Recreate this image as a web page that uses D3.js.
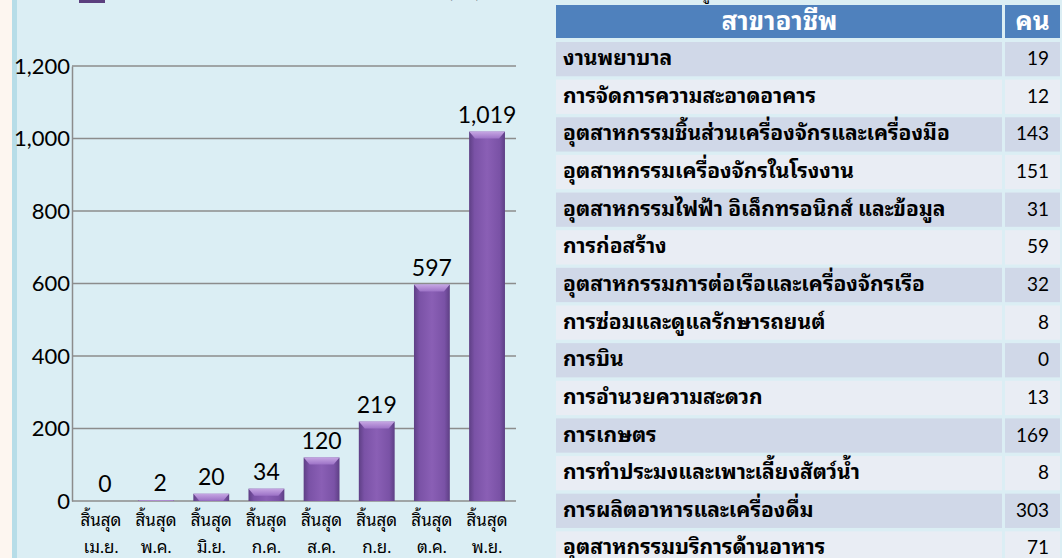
<!DOCTYPE html>
<html>
<head>
<meta charset="utf-8">
<script src="https://cdn.jsdelivr.net/npm/d3@7/dist/d3.min.js"></script>
<style>
  body { margin: 0; background: #dbeef4; }
  svg { display: block; }
  text { font-family: Lato, "Noto Sans Thai Looped", Tahoma, Loma, Garuda, "Noto Sans Thai", "Noto Sans", "DejaVu Sans", sans-serif; }
</style>
</head>
<body>
<svg id="chart" width="1062" height="558"></svg>
<script>
// chart data
var prefix = "สิ้นสุด";
var months = ["เม.ย.", "พ.ค.", "มิ.ย.", "ก.ค.", "ส.ค.", "ก.ย.", "ต.ค.", "พ.ย."];
var values = [0, 2, 20, 34, 120, 219, 597, 1019];
var yTicks = [0, 200, 400, 600, 800, 1000, 1200];

// table data
var headers = ["สาขาอาชีพ", "คน"];
var occupations = [
    "งานพยาบาล",
    "การจัดการความสะอาดอาคาร",
    "อุตสาหกรรมชิ้นส่วนเครื่องจักรและเครื่องมือ",
    "อุตสาหกรรมเครื่องจักรในโรงงาน",
    "อุตสาหกรรมไฟฟ้า อิเล็กทรอนิกส์ และข้อมูล",
    "การก่อสร้าง",
    "อุตสาหกรรมการต่อเรือและเครื่องจักรเรือ",
    "การซ่อมและดูแลรักษารถยนต์",
    "การบิน",
    "การอำนวยความสะดวก",
    "การเกษตร",
    "การทำประมงและเพาะเลี้ยงสัตว์น้ำ",
    "การผลิตอาหารและเครื่องดื่ม",
    "อุตสาหกรรมบริการด้านอาหาร"
];
var counts = [19, 12, 143, 151, 31, 59, 32, 8, 0, 13, 169, 8, 303, 71];

var svg = d3.select("#chart");

// page frame
svg.append("rect").attr("x", 0).attr("y", 0).attr("width", 12).attr("height", 558).attr("fill", "#fdf6f0");
svg.append("rect").attr("x", 12).attr("y", 0).attr("width", 5).attr("height", 558).attr("fill", "#b7dde8");

var defs = svg.append("defs");
var grad = defs.append("linearGradient").attr("id", "barGrad")
    .attr("x1", 0).attr("x2", 1).attr("y1", 0).attr("y2", 0);
grad.append("stop").attr("offset", "0%").attr("stop-color", "#5e3f85");
grad.append("stop").attr("offset", "15%").attr("stop-color", "#7a52a6");
grad.append("stop").attr("offset", "50%").attr("stop-color", "#8a5fb5");
grad.append("stop").attr("offset", "85%").attr("stop-color", "#7a52a6");
grad.append("stop").attr("offset", "100%").attr("stop-color", "#5e3f85");
var topGrad = defs.append("linearGradient").attr("id", "topGrad")
    .attr("x1", 0).attr("x2", 0).attr("y1", 0).attr("y2", 1);
topGrad.append("stop").attr("offset", "0%").attr("stop-color", "#c6a6e3");
topGrad.append("stop").attr("offset", "100%").attr("stop-color", "#9c72c6");

// ---- bar chart ----
var x = d3.scaleBand().domain(months).range([72, 516]).paddingInner(0.35).paddingOuter(0.2);
var y = d3.scaleLinear().domain([0, 1200]).range([501, 66]);

var g = svg.append("g");

g.selectAll(".grid")
    .data(yTicks.slice(1))
    .enter().append("line")
    .attr("class", "grid")
    .attr("x1", 72).attr("x2", 516)
    .attr("y1", function(d) { return y(d); })
    .attr("y2", function(d) { return y(d); })
    .attr("stroke", "#8c8c8c").attr("stroke-width", 1.5);

var yAxis = g.append("g")
    .attr("transform", "translate(72,0)")
    .call(d3.axisLeft(y).tickValues(yTicks).tickSize(0).tickPadding(2).tickFormat(d3.format(",")));
yAxis.select(".domain").attr("stroke", "#8c8c8c").attr("stroke-width", 1.5);
yAxis.selectAll("text").attr("font-size", 22).attr("fill", "#000")
    .style("font-family", "Lato, 'Noto Sans', sans-serif");

g.append("line").attr("x1", 72).attr("x2", 516).attr("y1", y(0)).attr("y2", y(0))
    .attr("stroke", "#8c8c8c").attr("stroke-width", 1.5);

var bars = g.selectAll(".bar")
    .data(values)
    .enter().append("g")
    .attr("class", "bar");

bars.append("rect")
    .attr("x", function(d, i) { return x(months[i]); })
    .attr("y", function(d) { return y(d); })
    .attr("width", x.bandwidth())
    .attr("height", function(d) { return y(0) - y(d); })
    .attr("fill", "url(#barGrad)");

// bevelled top
bars.append("path")
    .attr("d", function(d, i) {
        var x0 = x(months[i]), w = x.bandwidth(), t = y(d);
        var h = Math.min(7, y(0) - t);
        if (h <= 0) return "";
        var inset = Math.min(6, h);
        return "M" + x0 + "," + t + "L" + (x0 + w) + "," + t +
            "L" + (x0 + w - inset) + "," + (t + h) + "L" + (x0 + inset) + "," + (t + h) + "Z";
    })
    .attr("fill", "url(#topGrad)");

bars.append("text")
    .attr("x", function(d, i) { return x(months[i]) + x.bandwidth() / 2 + (i < 2 ? 4 : 0); })
    .attr("y", function(d) { return y(d) - 9; })
    .attr("text-anchor", "middle")
    .attr("font-size", 23)
    .attr("fill", "#000")
    .text(function(d) { return d3.format(",")(d); });

var xl = g.selectAll(".xlab")
    .data(months)
    .enter().append("text")
    .attr("class", "xlab")
    .attr("x", function(d) { return x(d) + x.bandwidth() / 2; })
    .attr("text-anchor", "middle")
    .attr("font-size", 17)
    .attr("fill", "#000");
xl.append("tspan").attr("y", 526).text(prefix);
xl.append("tspan").attr("y", 553)
    .attr("x", function(d) { return x(d) + x.bandwidth() / 2; })
    .text(function(d) { return d; });

// legend (clipped at top of the window)
g.append("rect").attr("x", 79).attr("y", -10).attr("width", 26).attr("height", 13).attr("fill", "#5b3f7e");
g.append("text").attr("x", 448).attr("y", -2).attr("font-size", 18).attr("fill", "#000").text("(คน)");

// ---- table ----
var tx0 = 556, tx1 = 1060, colSplit = 1003;
var rowY = d3.scaleBand().domain(d3.range(occupations.length)).range([42, 42 + 37.4 * occupations.length]).paddingInner(0.09);

var t = svg.append("g");
t.append("text").attr("x", 700).attr("y", -1).attr("font-size", 16).attr("fill", "#000").text("ผู้ผ่านการฝึก");

t.append("rect").attr("x", tx0).attr("y", 5).attr("width", colSplit - tx0 - 1).attr("height", 33).attr("fill", "#4f81bd");
t.append("rect").attr("x", colSplit + 2).attr("y", 5).attr("width", tx1 - colSplit - 2).attr("height", 33).attr("fill", "#4f81bd");
t.append("text").attr("x", (tx0 + colSplit) / 2).attr("y", 30).attr("text-anchor", "middle")
    .attr("font-size", 26).attr("font-weight", "bold").attr("fill", "#fff").text(headers[0]);
t.append("text").attr("x", (colSplit + tx1) / 2 + 1).attr("y", 30).attr("text-anchor", "middle")
    .attr("font-size", 26).attr("font-weight", "bold").attr("fill", "#fff").text(headers[1]);

var rows = t.selectAll(".row")
    .data(occupations)
    .enter().append("g")
    .attr("class", "row")
    .attr("transform", function(d, i) { return "translate(0," + rowY(i) + ")"; });

rows.append("rect").attr("x", tx0).attr("width", colSplit - tx0 - 1).attr("height", rowY.bandwidth())
    .attr("fill", function(d, i) { return i % 2 ? "#e9edf4" : "#d0d8e8"; });
rows.append("rect").attr("x", colSplit + 2).attr("width", tx1 - colSplit - 2).attr("height", rowY.bandwidth())
    .attr("fill", function(d, i) { return i % 2 ? "#e9edf4" : "#d0d8e8"; });
rows.append("text").attr("x", 563).attr("y", rowY.bandwidth() / 2 + 6)
    .attr("font-size", 21).attr("font-weight", "bold").attr("fill", "#000")
    .text(function(d) { return d; });
rows.append("text").attr("x", 1049).attr("y", rowY.bandwidth() / 2 + 6)
    .attr("text-anchor", "end").attr("font-size", 19).attr("fill", "#000")
    .text(function(d, i) { return counts[i]; });
</script>
</body>
</html>
